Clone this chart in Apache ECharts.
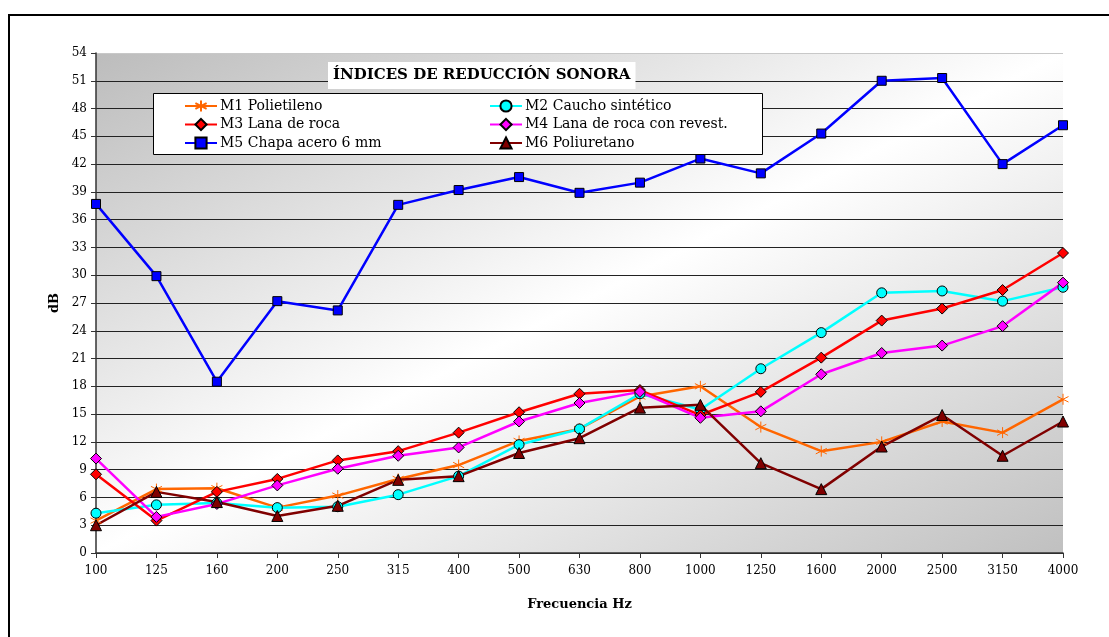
<!DOCTYPE html>
<html>
<head>
<meta charset="utf-8">
<script src="https://cdn.jsdelivr.net/npm/echarts@6/dist/echarts.min.js"></script>
<style>html,body{margin:0;padding:0;background:#fff;}#c{width:1109px;height:637px;}</style>
</head>
<body>
<div id="c"></div>
<script>
const categories = ['100','125','160','200','250','315','400','500','630','800','1000','1250','1600','2000','2500','3150','4000'];
const m1 = [3.5, 6.9, 7.0, 4.9, 6.2, 8.0, 9.5, 12.1, 13.4, 16.9, 18.0, 13.6, 11.0, 12.0, 14.2, 13.0, 16.6];
const m2 = [4.3, 5.2, 5.4, 4.9, 5.0, 6.3, 8.3, 11.7, 13.4, 17.2, 15.5, 19.9, 23.8, 28.1, 28.3, 27.2, 28.7];
const m3 = [8.5, 3.5, 6.6, 8.0, 10.0, 11.0, 13.0, 15.2, 17.2, 17.6, 14.9, 17.4, 21.1, 25.1, 26.4, 28.4, 32.4];
const m4 = [10.2, 3.9, 5.3, 7.3, 9.1, 10.5, 11.4, 14.2, 16.2, 17.4, 14.6, 15.3, 19.3, 21.6, 22.4, 24.5, 29.2];
const m5 = [37.7, 29.9, 18.5, 27.2, 26.2, 37.6, 39.2, 40.6, 38.9, 40.0, 42.6, 41.0, 45.3, 51.0, 51.3, 42.0, 46.2];
const m6 = [3.0, 6.6, 5.5, 4.0, 5.1, 7.9, 8.3, 10.8, 12.4, 15.7, 16.0, 9.7, 6.9, 11.5, 14.9, 10.5, 14.2];
const names = ['M1 Polietileno','M2 Caucho sintético','M3 Lana de roca','M4 Lana de roca con revest.','M5 Chapa acero 6 mm','M6 Poliuretano'];
const yTicks = [0,3,6,9,12,15,18,21,24,27,30,33,36,39,42,45,48,51,54];

const FONT = 'DejaVu Serif';
const star = 'path://M5,0L5,10M0.7,2.5L9.3,7.5M0.7,7.5L9.3,2.5';

function mk(name, data, color, symbol, size, border) {
  return {
    name: name, type: 'line', data: data,
    symbol: symbol, symbolSize: size,
    lineStyle: { color: color, width: 2.5 },
    itemStyle: { color: color, borderColor: border, borderWidth: 1 },
    emphasis: { disabled: true },
    animation: false, z: 5
  };
}

const splitColors = yTicks.map((v, i) => i === yTicks.length - 1 ? '#c8c8c8' : '#222');

// plot area geometry (for the anti-diagonal background gradient)
const G = { left: 96, top: 53, w: 967, h: 500 };
const L2 = G.w * G.w + G.h * G.h;
const f = G.w * G.h / L2;
const cx = G.left + G.w / 2, cy = G.top + G.h / 2;

const chart = echarts.init(document.getElementById('c'), null, { renderer: 'canvas' });
chart.setOption({
  animation: false,
  backgroundColor: '#fff',
  textStyle: { fontFamily: FONT },
  title: {
    text: 'ÍNDICES DE REDUCCIÓN SONORA',
    left: 328, top: 62,
    backgroundColor: '#fff',
    padding: [6, 5, 6, 5],
    textStyle: { fontFamily: FONT, fontWeight: 'bold', fontSize: 15, color: '#000' },
    z: 6
  },
  graphic: [
    { type: 'rect', shape: { x: 9, y: 15, width: 1200, height: 700 }, style: { fill: null, stroke: '#000', lineWidth: 2 }, z: 10, silent: true },
    { type: 'rect', shape: { x: 153.5, y: 93.5, width: 609, height: 61 }, style: { fill: '#fff', stroke: '#000', lineWidth: 1 }, z: 6, silent: true }
  ],
  legend: [
    {
      data: [names[0], names[2], names[4]], orient: 'vertical',
      left: 184, top: 99, padding: 0, itemGap: 4.5, itemWidth: 32, itemHeight: 14,
      textStyle: { fontFamily: FONT, fontSize: 14, color: '#000', padding: [0, 0, 0, -2] }, z: 7
    },
    {
      data: [names[1], names[3], names[5]], orient: 'vertical',
      left: 489, top: 99, padding: 0, itemGap: 4.5, itemWidth: 32, itemHeight: 14,
      textStyle: { fontFamily: FONT, fontSize: 14, color: '#000', padding: [0, 0, 0, -2] }, z: 7
    }
  ],
  grid: {
    left: G.left, right: 1109 - G.left - G.w, top: G.top, bottom: 637 - G.top - G.h, show: true, borderWidth: 0,
    backgroundColor: {
      type: 'linear', global: true,
      x: cx - G.h * f, y: cy - G.w * f, x2: cx + G.h * f, y2: cy + G.w * f,
      colorStops: [
        { offset: 0, color: '#bcbcbc' },
        { offset: 0.5, color: '#ffffff' },
        { offset: 1, color: '#c0c0c0' }
      ]
    }
  },
  xAxis: {
    type: 'category', data: categories, boundaryGap: false,
    name: 'Frecuencia Hz', nameLocation: 'middle', nameGap: 45,
    nameTextStyle: { fontFamily: FONT, fontWeight: 'bold', fontSize: 13, color: '#000' },
    axisLine: { lineStyle: { color: '#333', width: 1.5 } },
    axisTick: { show: true, length: 5, inside: false, lineStyle: { color: '#333' }, alignWithLabel: true },
    axisLabel: { fontFamily: FONT, fontSize: 12, color: '#000', margin: 12, interval: 0 },
    splitLine: { show: false }
  },
  yAxis: {
    type: 'value', min: 0, max: 54, interval: 3,
    name: 'dB', nameLocation: 'middle', nameGap: 28, nameRotate: 90,
    nameTextStyle: { fontFamily: FONT, fontWeight: 'bold', fontSize: 13, color: '#000' },
    axisLine: { show: true, lineStyle: { color: '#333', width: 1.5 } },
    axisTick: { show: true, length: 5, inside: false, lineStyle: { color: '#333' } },
    axisLabel: { fontFamily: FONT, fontSize: 12, color: '#000', margin: 9 },
    splitLine: { show: true, lineStyle: { color: splitColors, width: 1.2 } }
  },
  series: [
    mk(names[0], m1, '#ff6600', star, 11, '#ff6600'),
    mk(names[1], m2, '#00ffff', 'circle', 10, '#000'),
    mk(names[2], m3, '#ff0000', 'diamond', 11, '#000'),
    mk(names[3], m4, '#ff00ff', 'diamond', 11, '#000'),
    mk(names[4], m5, '#0000ff', 'rect', 9, '#000'),
    mk(names[5], m6, '#800000', 'triangle', 11, '#000')
  ]
});
</script>
</body>
</html>
